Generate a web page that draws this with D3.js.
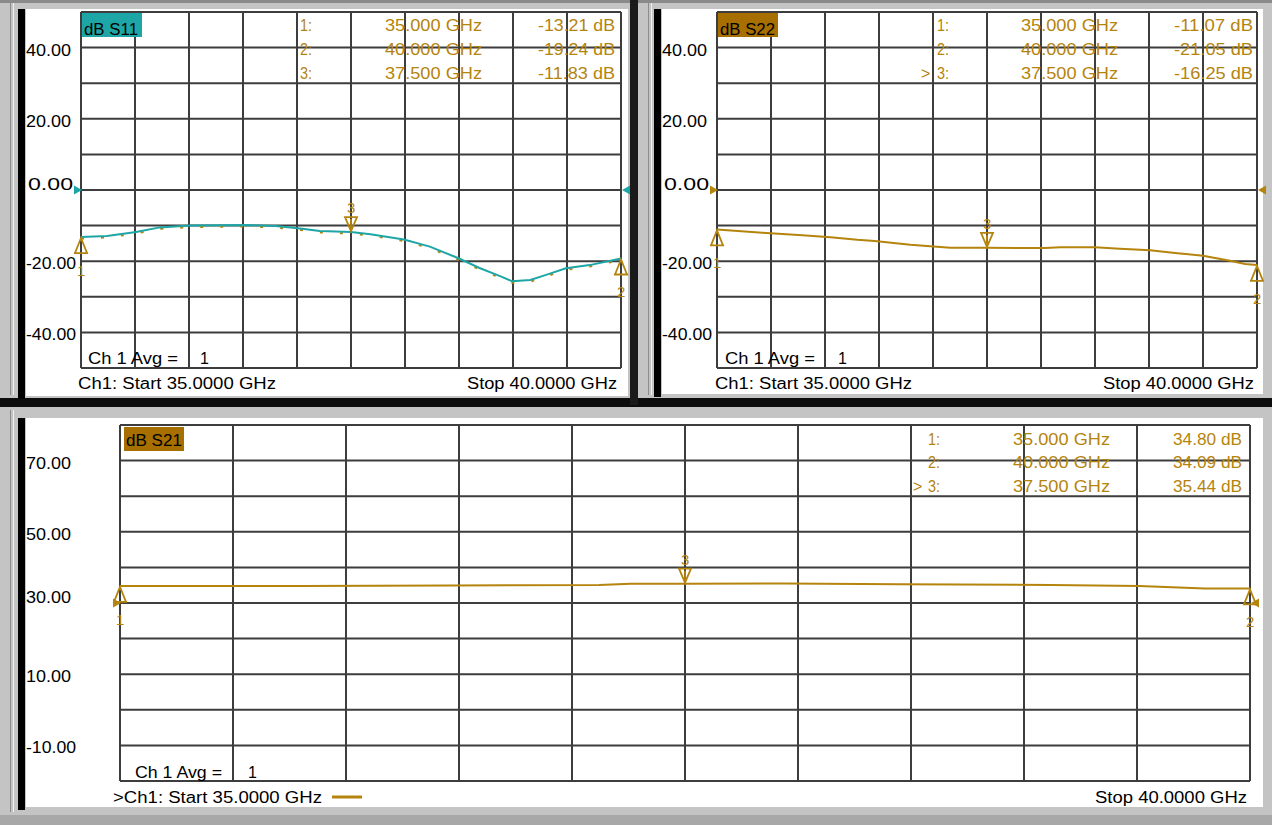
<!DOCTYPE html>
<html><head><meta charset="utf-8">
<script src="https://cdn.jsdelivr.net/npm/d3@7"></script>
<style>body{margin:0;background:#b8b8b8;overflow:hidden} text{font-family:"Liberation Sans",Arial,sans-serif;}</style>
</head><body><svg id="c" width="1272" height="825"></svg>
<script>
// ---------- data ----------
const freqS11 = [35.0,35.24,35.51,35.73,36.01,36.52,36.8,37.03,37.21,37.5,37.68,37.99,38.23,38.49,38.69,38.88,38.99,39.16,39.3,39.49,39.71,40.0];
const dbS11   = [-13.21,-12.9,-11.8,-10.5,-10.0,-9.8,-10.1,-10.8,-11.5,-11.83,-12.4,-13.9,-15.9,-19.1,-21.9,-24.2,-25.6,-25.3,-23.9,-22.0,-21.1,-19.24];
const freqS22 = [35.0,35.42,35.79,36.05,36.3,36.46,36.79,37.16,37.5,38.04,38.18,38.5,38.73,39.01,39.22,39.5,39.75,39.89,40.0];
const dbS22   = [-11.07,-12.0,-12.7,-13.3,-14.0,-14.3,-15.4,-16.2,-16.25,-16.3,-16.1,-16.1,-16.5,-16.9,-17.6,-18.5,-19.9,-20.8,-21.05];
const freqS21 = [35.0,35.8,36.46,37.12,37.26,37.5,37.94,38.45,39.12,39.51,39.8,40.0];
const dbS21   = [34.80,34.8,34.9,35.05,35.4,35.44,35.5,35.3,35.05,34.8,34.1,34.09];

const markerIds = ["1","2","3"];
const markerFreqs = [35.0, 40.0, 37.5];
const markerFreqLabels = ["35.000 GHz","40.000 GHz","37.500 GHz"];
const markerS11 = [-13.21,-19.24,-11.83];
const markerS22 = [-11.07,-21.05,-16.25];
const markerS21 = [34.80,34.09,35.44];

const yTicksTop = [40,20,0,-20,-40];
const yTicksBottom = [70,50,30,10,-10];
const freqDomain = [35, 40];
const startText = "Ch1: Start  35.0000 GHz";
const stopText = "Stop  40.0000 GHz";
const avgText = "Ch 1 Avg =";
const avgValue = "1";

// ---------- drawing ----------
const TEAL = "#1ea6a6", ORANGE = "#b5840d", BOXOR = "#a66f00", GRID = "#3d3d3d";
const FS = 16;
const fmt = d3.formatLocale({decimal:".", thousands:",", grouping:[3], currency:["",""], minus:"-"}).format(".2f");
const svg = d3.select("#c");

// window frames
svg.append("rect").attr("x",0).attr("y",0).attr("width",1272).attr("height",825).attr("fill","#c4c4c4");
svg.append("rect").attr("x",0).attr("y",0).attr("width",1272).attr("height",3).attr("fill","#8a8a8a");
svg.append("rect").attr("x",0).attr("y",398).attr("width",1272).attr("height",9).attr("fill","#0d0d0d");
svg.append("rect").attr("x",630).attr("y",0).attr("width",8).attr("height",405).attr("fill","#1a1a1a");
svg.append("rect").attr("x",0).attr("y",815).attr("width",1272).attr("height",10).attr("fill","#a8a8a8");
[[0,0,630,398],[638,0,634,398],[0,407,1272,408]].forEach(([x,y,w,h])=>{
  svg.append("rect").attr("x",x+10).attr("y",y+3).attr("width",1).attr("height",h-6).attr("fill","#8c8c8c");
  svg.append("rect").attr("x",x+13).attr("y",y+3).attr("width",1).attr("height",h-6).attr("fill","#f0f0f0");
});
const windows = [
  {wx:26, wy:9, ww:602, wh:387, bar:18},
  {wx:662, wy:9, ww:601, wh:385, bar:654},
  {wx:26, wy:418, ww:1237, wh:389, bar:18}
];
windows.forEach(w=>{
  svg.append("rect").attr("x",w.wx).attr("y",w.wy).attr("width",w.ww).attr("height",w.wh).attr("fill","#ffffff");
  svg.append("rect").attr("x",w.bar).attr("y",w.wy).attr("width",7).attr("height",w.wh+3).attr("fill","#000");
});

const panels = [
  {name:"dB S11", color:TEAL, box:TEAL, freq:freqS11, db:dbS11, mk:markerS11, ticks:yTicksTop,
   x0:81, x1:621, y0:12, y1:368, dom:[-50,50], ref:0, labX:26,
   tab:{id:300, act:null, fs:385, fe:482, vs:538, ve:615, rows:[31,55,79]},
   bx:[82,13,60,24], bt:[84,138,35], avg:[88,178,200,364], foot:[78,276,467,617,389], active:false, speckle:true},
  {name:"dB S22", color:ORANGE, box:BOXOR, freq:freqS22, db:dbS22, mk:markerS22, ticks:yTicksTop,
   x0:717, x1:1257, y0:12, y1:368, dom:[-50,50], ref:0, labX:662,
   tab:{id:937, act:921, fs:1021, fe:1118, vs:1174, ve:1253, rows:[31,55,79]},
   bx:[718,13,60,24], bt:[720,775,35], avg:[725,815,838,364], foot:[715,912,1103,1254,389], active:false},
  {name:"dB S21", color:ORANGE, box:BOXOR, freq:freqS21, db:dbS21, mk:markerS21, ticks:yTicksBottom,
   x0:120, x1:1250, y0:425, y1:781, dom:[-20,80], ref:30, labX:26,
   tab:{id:928, act:913, fs:1013, fe:1110, vs:1173, ve:1242, rows:[445,468,492]},
   bx:[124,427,60,24], bt:[126,182,446], avg:[135,222,248,778], foot:[113,322,1095,1247,803], active:true}
];

function txt(g, s, x, y, len, fill, size){
  const t = g.append("text").attr("x",x).attr("y",y).attr("fill",fill||"#000")
    .attr("font-size",(size||FS)+"px").text(s);
  if(len){ t.attr("textLength",len).attr("lengthAdjust","spacingAndGlyphs"); }
  return t;
}

panels.forEach(p=>{
  const g = svg.append("g");
  const x = d3.scaleLinear().domain(freqDomain).range([p.x0,p.x1]);
  const y = d3.scaleLinear().domain(p.dom).range([p.y1,p.y0]);

  // grid
  const xs = d3.range(0,11).map(i=>35+i*0.5);
  const ys = d3.range(0,11).map(i=>p.dom[0]+i*(p.dom[1]-p.dom[0])/10);
  g.selectAll(".vx").data(xs).join("line").attr("x1",d=>x(d)).attr("x2",d=>x(d))
    .attr("y1",p.y0).attr("y2",p.y1).attr("stroke",GRID).attr("stroke-width",2);
  g.selectAll(".hy").data(ys).join("line").attr("y1",d=>y(d)).attr("y2",d=>y(d))
    .attr("x1",p.x0).attr("x2",p.x1).attr("stroke",GRID).attr("stroke-width",2);

  // y labels
  p.ticks.forEach(v=>{
    const s = fmt(v);
    const isRef = v===p.ref;
    const len = s.length<=5 ? 45 : 50;
    const xx = p.labX + (s.length===4 ? 2 : 0);
    txt(g, s, xx, y(v) + (isRef ? 0 : 8), len, "#000");
  });

  // title box
  g.append("rect").attr("x",p.bx[0]).attr("y",p.bx[1]).attr("width",p.bx[2]).attr("height",p.bx[3]).attr("fill",p.box);
  txt(g, p.name, p.bt[0], p.bt[2], p.bt[1]-p.bt[0], "#000");

  // marker table
  markerIds.forEach((id,i)=>{
    const yy = p.tab.rows[i];
    if(p.tab.act && i===2) txt(g, ">", p.tab.act, yy, null, ORANGE);
    txt(g, id+":", p.tab.id, yy, 12, ORANGE);
    txt(g, markerFreqLabels[i], p.tab.fs, yy, p.tab.fe-p.tab.fs, ORANGE);
    txt(g, fmt(p.mk[i])+" dB", p.tab.vs, yy, p.tab.ve-p.tab.vs, ORANGE);
  });

  // avg and footer
  txt(g, avgText, p.avg[0], p.avg[3], p.avg[1]-p.avg[0], "#000");
  txt(g, avgValue, p.avg[2], p.avg[3], null, "#000");
  txt(g, (p.active?">":"")+startText, p.foot[0], p.foot[4], p.foot[1]-p.foot[0], "#000");
  txt(g, stopText, p.foot[2], p.foot[4], p.foot[3]-p.foot[2], "#000");
  if(p.active){
    g.append("line").attr("x1",p.foot[1]+10).attr("x2",p.foot[1]+40).attr("y1",p.foot[4]-6).attr("y2",p.foot[4]-6)
      .attr("stroke",ORANGE).attr("stroke-width",3);
  }

  // reference level triangles
  const yr = y(p.ref);
  g.append("path").attr("d",`M${p.x0-7},${yr-4.5}L${p.x0+1},${yr}L${p.x0-7},${yr+4.5}Z`).attr("fill",p.color);
  g.append("path").attr("d",`M${p.x1+9},${yr-4.5}L${p.x1+1},${yr}L${p.x1+9},${yr+4.5}Z`).attr("fill",p.color);

  // trace
  const pts = p.freq.map((f,i)=>[f,p.db[i]]);
  const line = d3.line().x(d=>x(d[0])).y(d=>y(d[1]));
  if(p.speckle){
    g.append("path").attr("d",line(pts)).attr("fill","none").attr("stroke",ORANGE)
      .attr("stroke-width",2).attr("stroke-dasharray","3 17").attr("transform","translate(0,1.5)");
  }
  g.append("path").attr("d",line(pts)).attr("fill","none").attr("stroke",p.color).attr("stroke-width",2);

  // markers
  markerIds.forEach((id,i)=>{
    const mx = x(markerFreqs[i]), my = y(p.mk[i]);
    if(i<2){
      g.append("path").attr("d",`M${mx},${my+1}L${mx-6},${my+16}L${mx+6},${my+16}Z M${mx-7},${my+16}H${mx+7}`)
        .attr("fill","none").attr("stroke",ORANGE).attr("stroke-width",1.8);
      txt(g, id, mx-4, my+39, null, ORANGE, 15);
    } else {
      g.append("path").attr("d",`M${mx},${my-1}L${mx-6},${my-15}L${mx+6},${my-15}Z M${mx},${my-13}V${my-3}`)
        .attr("fill","none").attr("stroke",ORANGE).attr("stroke-width",1.8);
      txt(g, id, mx-4, my-19, null, ORANGE, 15);
    }
  });
});
</script></body></html>
